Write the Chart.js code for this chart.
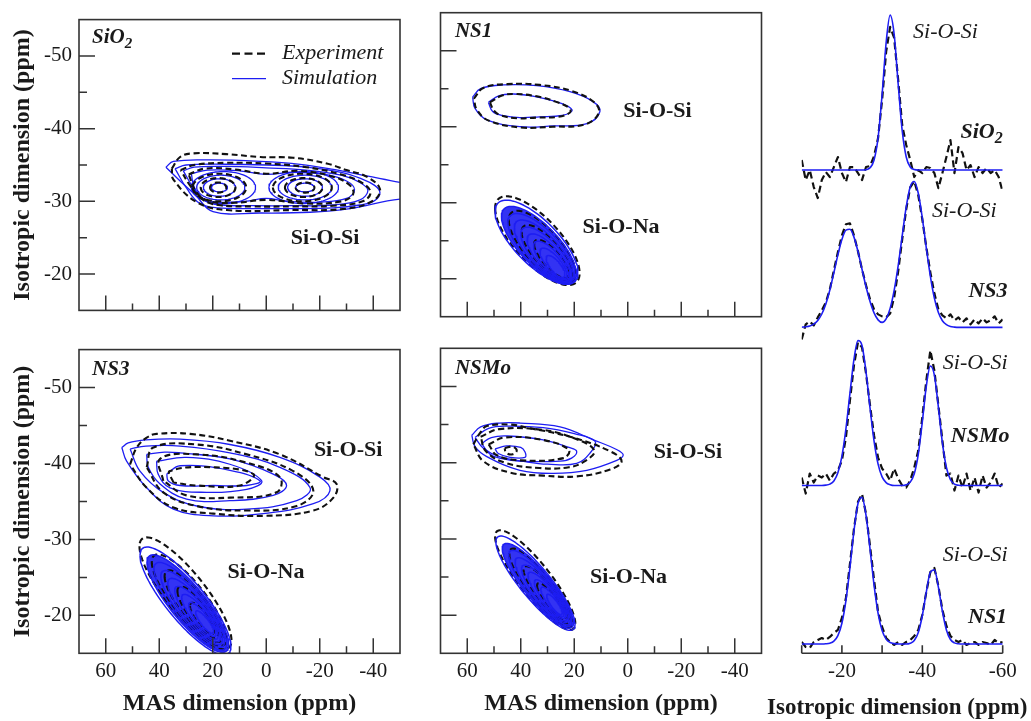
<!DOCTYPE html>
<html><head><meta charset="utf-8">
<script src="https://cdn.jsdelivr.net/npm/chart.js@4.4.1/dist/chart.umd.min.js"></script>
<style>
html,body{margin:0;padding:0;background:#fff;width:1031px;height:721px;overflow:hidden}
canvas{position:absolute}
</style></head><body>
<canvas id="p1" style="left:0px;top:0px;width:402px;height:330px" width="402" height="330"></canvas>
<canvas id="p2" style="left:430px;top:0px;width:340px;height:330px" width="340" height="330"></canvas>
<canvas id="p3" style="left:0px;top:330px;width:402px;height:391px" width="402" height="391"></canvas>
<canvas id="p4" style="left:420px;top:330px;width:350px;height:391px" width="350" height="391"></canvas>
<canvas id="p5" style="left:740px;top:0px;width:291px;height:721px" width="291" height="721"></canvas>
<script>
// ---------- axis ticks ----------
const masMajor = [60, 40, 20, 0, -20, -40];
const masMinor = [50, 30, 10, -10, -30];
const isoMajor = [-50, -40, -30, -20];
const isoMinor = [-45, -35, -25];
const projTicks = [-10, -20, -30, -40, -50, -60];
const projLabels = [-20, -40, -60];

// ---------- 2D contours: polygons [MAS, isotropic] and ellipses [cx, cy, rx, ry, slope] ----------
const sio2SimPolys = [
  [[37.5,-34.7],[34.7,-35.5],[21,-35.7],[2.3,-35.5],[-12.6,-35.1],[-25.1,-34.4],[-37.5,-33.5],[-50,-32.6],[-62,-31.6],[-62,-30.0],[-50,-30.3],[-31.3,-29.0],[-16.4,-28.5],[2.3,-28.4],[19.9,-28.6],[26.6,-30.9],[32.2,-32.8]],
  [[34.1,-34.5],[30,-35.0],[15,-35.1],[0,-35.0],[-15,-34.7],[-28,-34.0],[-35,-33.2],[-40.5,-32.2],[-42.5,-31.2],[-40.5,-30.1],[-35,-29.5],[-25,-29.1],[-10,-29.0],[5,-29.0],[18,-29.1],[24.8,-29.7],[29.6,-31.7]],
  [[31,-34.2],[27,-34.7],[15,-34.8],[0,-34.6],[-15,-34.3],[-28,-33.6],[-35,-32.6],[-38,-31.5],[-35,-30.2],[-25,-29.5],[-10,-29.4],[5,-29.4],[17,-29.5],[23,-30.1],[27.5,-32.0]],
  [[28,-33.8],[22,-34.3],[10,-34.2],[0,-33.7],[-10,-34.0],[-22,-33.7],[-30,-32.8],[-33,-31.6],[-30,-30.4],[-20,-29.9],[-8,-30.0],[0,-30.4],[8,-30.0],[18,-29.9],[24,-30.5],[27,-32.0]]
];
const sio2SimEll = [[16,-31.9,12,2.2,0],[17,-31.9,9,1.7,0],[17.5,-31.9,6,1.2,0],[17.5,-31.9,3,0.6,0],
  [-14,-31.9,13,2.2,0],[-14.5,-31.9,10,1.7,0],[-14.5,-31.9,6.5,1.2,0],[-14.5,-31.9,3.5,0.6,0]];
const sio2ExpPolys = [
  [[35.3,-34.5],[32.2,-36.1],[27.3,-36.6],[15,-36.5],[2.3,-36.1],[-10,-36.0],[-22.6,-35.2],[-30,-34.3],[-37.5,-33.4],[-42.5,-31.7],[-40,-30.1],[-30,-29.0],[-10,-28.8],[14.8,-28.8],[26,-29.9],[34.7,-33]],
  [[32,-34.3],[27,-35.0],[15,-35.3],[0,-35.2],[-15,-34.7],[-28,-33.7],[-36,-32.5],[-39,-31.2],[-36,-30.0],[-25,-29.4],[-10,-29.3],[5,-29.3],[18,-29.5],[24,-30.3],[28.5,-32.2]],
  [[29,-33.7],[23,-34.5],[12,-34.4],[0,-33.8],[-12,-34.2],[-24,-33.5],[-31,-32.3],[-32.5,-31.0],[-28,-30.0],[-15,-29.7],[0,-30.2],[12,-29.8],[21,-30.0],[26,-31.2]]
];
const sio2ExpEll = [[17.5,-31.9,10,1.9,0],[18,-31.9,6.5,1.3,0],[18,-31.9,3,0.7,0],[-13.5,-31.9,11,1.9,0],[-14,-31.9,7,1.3,0],[-14.5,-31.9,3.5,0.7,0]];

const ns1SimPolys = [
  [[58.0,-43.9],[55,-45.0],[46.5,-45.5],[34,-45.4],[21.6,-44.6],[13,-43.3],[10.4,-42.0],[15.3,-40.4],[27.8,-40.1],[40.3,-40.0],[52.7,-40.9],[57.1,-42.4]],
  [[52.1,-43.2],[48,-44.1],[42.8,-44.3],[35,-44.0],[27.8,-43.4],[22.5,-42.7],[20.8,-42.1],[24.5,-41.5],[33,-41.3],[40.3,-41.2],[47,-41.5],[50.5,-42.0]]
];
const ns1SimEll = [[34.1,-24.8,15.5,3.8,-0.26],[33.2,-24.4,14.0,3.45,-0.27],[32.3,-24.0,12.5,3.1,-0.27],[31.4,-23.6,11.0,2.75,-0.28],[30.5,-23.2,9.5,2.4,-0.28],[29.6,-22.8,8.0,2.05,-0.29],[28.7,-22.4,6.5,1.7,-0.29],[27.8,-22.0,5.0,1.35,-0.3],[27.0,-21.6,3.5,1.0,-0.3]];
const ns1ExpPolys = [
  [[57.5,-43.7],[54,-45.1],[45,-45.6],[33,-45.5],[21,-44.7],[12.5,-43.2],[10.8,-41.8],[16,-40.3],[28,-40.0],[40,-39.9],[52,-40.8],[56.5,-42.3]],
  [[51.5,-43.2],[47,-44.1],[42,-44.3],[34,-44.0],[27,-43.3],[22,-42.5],[21.5,-41.9],[26,-41.3],[34,-41.2],[41,-41.1],[47.5,-41.5],[50,-42.1]]
];
const ns1ExpEll = [[33.8,-25.0,15.8,4.0,-0.27],[32,-24.2,12.5,3.2,-0.28],[30.2,-23.4,9.5,2.4,-0.29],[28.5,-22.6,6.5,1.6,-0.3]];

const ns3SimPolys = [
  [[54,-42.1],[51.6,-42.7],[45,-43.1],[32.2,-43.2],[13.6,-42.5],[-5.1,-40.8],[-20.1,-38.2],[-23.8,-36.4],[-17.6,-34.7],[1.1,-33.4],[19.8,-33.1],[34.7,-34.0],[44.7,-36.8],[52.2,-40.3]],
  [[50.9,-41.9],[45,-42.3],[32.2,-42.3],[13.6,-41.4],[-5.1,-39.5],[-16.4,-36.8],[-11.4,-35.1],[7.3,-34.0],[26,-34.4],[38.5,-36.2],[47.2,-39.0]],
  [[44.7,-41.2],[38,-41.5],[32.2,-41.4],[13.6,-40.6],[-2.6,-38.6],[-7.6,-37.1],[-2.6,-35.8],[13.6,-35.1],[29.8,-35.3],[39.7,-37.3],[44.1,-39.5]],
  [[41,-40.3],[29.8,-40.8],[13.6,-39.9],[1.7,-37.7],[7.3,-36.6],[22.3,-36.2],[36,-36.8],[40.4,-38.6]],
  [[37.2,-38.6],[32.2,-39.7],[13.6,-39.1],[2.3,-37.7],[7.3,-37.1],[19.8,-37.1],[32.2,-37.1],[36.6,-37.7]]
];
const ns3SimEll = [[30.2,-21.9,17.0,3.8,-0.353],[29.3,-21.55,15.3,3.42,-0.355],[28.4,-21.2,13.6,3.05,-0.36],[27.5,-20.85,11.9,2.68,-0.36],[26.6,-20.5,10.2,2.3,-0.365],[25.7,-20.15,8.5,1.93,-0.365],[24.8,-19.8,6.8,1.56,-0.37],[23.9,-19.45,5.1,1.19,-0.37],[23.0,-19.1,3.4,0.82,-0.37]];
const ns3ExpPolys = [
  [[50.9,-39.9],[48.4,-42.1],[44.7,-43.4],[41,-43.9],[28.5,-43.9],[13.6,-43.0],[-5.1,-41.2],[-21.3,-38.2],[-26.3,-37.3],[-25.1,-35.5],[-17.6,-33.8],[1.1,-33.1],[19.8,-33.4],[34.7,-34.2],[44.7,-36.8]],
  [[44.7,-39.5],[42.2,-42.1],[26,-42.5],[7.3,-41.2],[-10.1,-39.0],[-17.6,-36.4],[-11.4,-34.4],[7.3,-33.8],[26,-34.4],[38.5,-36.2]],
  [[38.5,-37.7],[39.7,-40.6],[26,-41.2],[7.3,-40.1],[-5.1,-38.2],[-3.9,-36.2],[13.6,-35.5],[29.8,-35.8]],
  [[34.7,-37.5],[36,-39.0],[19.8,-39.5],[4.8,-38.6],[9.8,-37.1],[26,-37.1]]
];
const ns3ExpEll = [[30.2,-22.9,17.2,4.0,-0.36],[28.8,-22.0,14,3.3,-0.36],[27.2,-21.2,10.8,2.6,-0.365],[25.6,-20.4,7.6,1.9,-0.37],[24,-19.6,4.5,1.2,-0.37]];

const nsmoSimPolys = [
  [[58.3,-43.6],[55,-44.7],[48,-45.2],[40.3,-45.2],[25.3,-44.7],[12.9,-43.0],[4,-41.7],[1.7,-41.0],[4.1,-40.3],[15.3,-39.0],[27.8,-38.6],[40.3,-39.0],[52.7,-40.8],[57.1,-42.1]],
  [[57.1,-43.3],[52,-44.5],[45,-44.8],[31.6,-44.6],[20,-43.8],[12.2,-42.8],[14,-41.3],[19.1,-39.9],[30,-39.8],[37.8,-40.1],[48,-40.8],[54,-41.9]],
  [[54.6,-42.5],[51,-43.3],[45,-43.5],[31.6,-43.0],[22,-42.0],[19.1,-41.5],[21,-40.6],[25.3,-40.2],[40.3,-40.2],[48,-40.6],[51.5,-41.1]],
  [[49.6,-41.8],[45.3,-42.2],[40,-42.0],[38.4,-41.4],[38.4,-40.7],[44,-40.7],[48.4,-41.2]]
];
const nsmoSimEll = [[34.5,-24.2,14.8,3.0,-0.365],[33.6,-23.85,13.3,2.72,-0.365],[32.7,-23.5,11.8,2.44,-0.37],[31.8,-23.15,10.3,2.16,-0.37],[30.9,-22.8,8.8,1.88,-0.37],[30.0,-22.45,7.3,1.6,-0.375],[29.1,-22.1,5.8,1.32,-0.375],[28.2,-21.75,4.3,1.04,-0.38],[27.4,-21.4,2.9,0.76,-0.38]];
const nsmoExpPolys = [
  [[57.7,-42.4],[55,-44.0],[52.7,-44.8],[44,-45.0],[37.8,-44.6],[21.6,-43.4],[6.6,-41.5],[2.3,-40.2],[6.6,-39.1],[19.1,-38.2],[31.6,-38.3],[44,-38.7],[54,-40.2]],
  [[55,-43.4],[48,-44.4],[32,-44.3],[20,-43.2],[12.5,-41.6],[16,-40.2],[22,-39.4],[33,-39.3],[46,-40.0],[53,-41.5]],
  [[52,-42.4],[46,-43.3],[32,-43.0],[22,-41.7],[24,-40.6],[40,-40.3],[49,-41.0]],
  [[46,-41.9],[43,-42.1],[41.5,-41.6],[43,-41.1],[45.5,-41.3]]
];
const nsmoExpEll = [[34.6,-24.6,15.0,3.2,-0.38],[32.5,-23.6,11.8,2.5,-0.38],[30.4,-22.7,8.6,1.8,-0.38],[28.4,-21.8,5.5,1.2,-0.38]];

// ---------- isotropic projections ----------
const projPpm = [-10,-11,-12,-13,-14,-15,-16,-17,-18,-19,-20,-21,-22,-23,-24,-25,-26,-27,-28,-29,-30,-31,-32,-33,-34,-35,-36,-37,-38,-39,-40,-41,-42,-43,-44,-45,-46,-47,-48,-49,-50,-51,-52,-53,-54,-55,-56,-57,-58,-59,-60];
const sio2Sim = [0,0,0,0,0,0,0,0,0,0,0,0,0,0,0,0,0.4,2.2,10,32.3,75.4,127.2,154.8,135.7,86,39.3,13,3.1,0.5,0,0,0,0,0,0,0,0,0,0,0,0,0,0,0,0,0,0,0,0,0,0];
const sio2Exp = [10,-10,0,-17,-28,-10,-2,-7,3,13,-3,-12,3,3,-3,-10,3,4,14,32,70,118,143,132,90,45,25,10,-7,0,-3,3,2,-3,-18,-3,13,30,-3,23,17,0,5,-7,3,-3,2,-3,0,-7,-22];
const ns3Sim = [0.2,0.6,1.4,3.3,7,13.4,23.4,37.4,54.5,72.4,87.8,97.1,98,90.2,75.8,58.1,40.6,25.9,14.5,7.5,5,8.5,19,37,61.8,91.5,120.4,140.6,145.7,134,109.5,79.3,51.1,29.2,14.8,6.7,2.7,0.9,0.3,0,0,0,0,0,0,0,0,0,0,0,0];
const ns3Exp = [-12,3,6,2,10,17,25,38,57,75,92,103,104,92,76,58,42,28,18,13,11,10,14,30,56,88,118,140,146,132,108,80,55,34,18,12,9,13,7,10,5,9,3,8,4,9,5,7,11,4,8];
const nsmoSim = [0,0,0,0,0,0,0.4,1.4,4.6,12.7,29.2,56.6,92.1,126,144.8,139.9,113.6,77.4,44.4,21.4,8.7,2.9,0.8,0,0,0,0.8,3.4,11.8,31.2,63.5,99.3,119.4,110.3,78.4,42.7,18,5.8,1.4,0.3,0,0,0,0,0,0,0,0,0,0,0];
const nsmoExp = [8,-8,12,3,10,8,12,5,12,15,25,48,85,120,143,138,112,80,50,28,17,12,5,17,7,0,-2,5,18,35,68,105,135,115,80,45,10,12,-5,10,-2,12,-5,8,-7,10,-2,3,12,-2,2];
const ns1Sim = [0,0,0,0,0,0,0.2,0.8,2.8,8.3,20.7,43.4,76.3,112.9,140.3,146.5,128.6,94.8,58.8,30.6,13.4,4.9,1.5,0.4,0,0,0,0.8,3.4,11.4,28.2,52.1,71.8,74,56.9,32.7,14,4.5,1.1,0.2,0,0,0,0,0,0,0,0,0,0,0];
const ns1Exp = [2,-3,-4,2,4,6,4,7,11,14,26,46,80,115,142,150,130,98,64,32,17,6,2,-1,2,-1,2,4,8,14,29,52,72,76,58,34,18,8,4,2,4,-1,1,2,-1,2,1,-1,4,1,2];
const stackNames = ['SiO2', 'NS3', 'NSMo', 'NS1'];
const stackBaselines = [482.8, 325.6, 167.6, 9.3];

// ---------- styling ----------
const SERIF = '"Liberation Serif","Times New Roman","DejaVu Serif",serif';
const BLUE = '#1d1df2';
const BLACK = '#111111';
const AXC = '#333333';
const TXT = '#1a1a1a';

function ring(poly) { return poly.concat([poly[0]]).map(p => ({x: p[0], y: p[1]})); }
function ellipse(e) {
  const [cx, cy, rx, ry, s] = e; const pts = [];
  for (let i = 0; i <= 90; i++) { const t = i / 90 * 2 * Math.PI; const dx = rx * Math.cos(t); pts.push({x: cx + dx, y: cy + s * dx + ry * Math.sin(t)}); }
  return pts;
}
function lineDs(data, color, w, dash, tension, order) {
  return {data, showLine: true, borderColor: color, backgroundColor: color, borderWidth: w, borderDash: dash || [], tension,
    pointRadius: 0, pointHoverRadius: 0, fill: false, borderCapStyle: 'butt', borderJoinStyle: 'round', order: order || 0};
}
// blobFill: index of the simulated ellipse whose interior is dense (solid) in the picture, or -1
function contourSets(sp, se, ep, ee, blobFill) {
  const ds = [];
  const blob = blobFill >= 0;
  if (blob) {
    const f = lineDs(ellipse(se[blobFill]), 'rgba(0,0,0,0)', 0, null, 0, 4);
    f.fill = 'shape'; f.backgroundColor = 'rgba(29,29,242,0.9)';
    ds.push(f);
  }
  sp.forEach(p => ds.push(lineDs(ring(p), BLUE, 1.3, null, 0.4, 2)));
  se.forEach(e => ds.push(lineDs(ellipse(e), BLUE, blob ? 1.5 : 1.3, null, 0, blob ? 1 : 2)));
  ep.forEach(p => ds.push(lineDs(ring(p), BLACK, 2.1, [6, 3.5], 0.4, 1)));
  ee.forEach(e => ds.push(lineDs(ellipse(e), BLACK, 2.1, [6, 3.5], 0, blob ? 3 : 1)));
  return ds;
}

function drawLabel(ctx, l, px, py) {
  ctx.font = l.font;
  const w1 = ctx.measureText(l.text).width;
  let w2 = 0;
  if (l.sub) { ctx.font = l.subFont; w2 = ctx.measureText(l.sub).width; }
  const total = w1 + w2;
  const x0 = l.align === 'left' ? px : (l.align === 'right' ? px - total : px - total / 2);
  ctx.textAlign = 'left'; ctx.textBaseline = 'middle'; ctx.fillStyle = TXT;
  ctx.font = l.font; ctx.fillText(l.text, x0, py);
  if (l.sub) { ctx.font = l.subFont; ctx.fillText(l.sub, x0 + w1, py + 6); }
}

const frameTicks = {
  id: 'frameTicks',
  afterDatasetsDraw(chart) {
    const {ctx, chartArea: a, scales: {x, y}} = chart;
    ctx.save();
    ctx.strokeStyle = AXC; ctx.lineWidth = 1.6; ctx.setLineDash([]);
    ctx.strokeRect(a.left, a.top, a.right - a.left, a.bottom - a.top);
    ctx.lineWidth = 1.5; ctx.beginPath();
    masMajor.forEach(v => { const p = x.getPixelForValue(v); ctx.moveTo(p, a.bottom); ctx.lineTo(p, a.bottom - 15); });
    masMinor.forEach(v => { const p = x.getPixelForValue(v); ctx.moveTo(p, a.bottom); ctx.lineTo(p, a.bottom - 7); });
    isoMajor.forEach(v => { const p = y.getPixelForValue(v); ctx.moveTo(a.left, p); ctx.lineTo(a.left + 16, p); });
    isoMinor.forEach(v => { const p = y.getPixelForValue(v); ctx.moveTo(a.left, p); ctx.lineTo(a.left + 8, p); });
    ctx.stroke(); ctx.restore();
  }
};
function annot(labels, extra) {
  return {
    id: 'annot',
    afterDatasetsDraw(chart) {
      const {ctx, scales: {x, y}} = chart;
      ctx.save();
      labels.forEach(l => drawLabel(ctx, l, x.getPixelForValue(l.x), y.getPixelForValue(l.y)));
      if (extra) extra(chart);
      ctx.restore();
    }
  };
}

const FB = 'bold 22px ' + SERIF;
const FTAG = 'italic bold 21px ' + SERIF;
const FSUB = 'italic bold 15px ' + SERIF;
const tickFont = {family: SERIF, size: 21};
const titleFont = {family: SERIF, size: 24, weight: 'bold', lineHeight: 1.2};

function panel(id, cfg) {
  const x = {type: 'linear', min: -50, max: 70, reverse: true, position: 'bottom', display: cfg.showX,
    afterBuildTicks: s => { s.ticks = masMajor.map(v => ({value: v})); },
    grid: {display: false, drawTicks: false}, border: {display: false},
    ticks: {font: tickFont, color: TXT, padding: 6, maxRotation: 0, autoSkip: false, callback: v => String(v)},
    title: {display: true, text: 'MAS dimension (ppm)', font: titleFont, color: TXT, padding: {top: 0, bottom: 3}}};
  if (cfg.showX) x.afterFit = s => { s.height = 67.7; };
  const y = {type: 'linear', min: -55, max: -15, reverse: true, position: 'left', display: cfg.showY,
    afterBuildTicks: s => { s.ticks = isoMajor.map(v => ({value: v})); },
    grid: {display: false, drawTicks: false}, border: {display: false},
    ticks: {font: tickFont, color: TXT, padding: 7, autoSkip: false, callback: v => String(v)},
    title: {display: true, text: 'Isotropic dimension (ppm)', font: titleFont, color: TXT, padding: {top: 8, bottom: 0}}};
  if (cfg.showY) y.afterFit = s => { s.width = 79; };
  new Chart(document.getElementById(id), {
    type: 'scatter',
    data: {datasets: cfg.datasets},
    options: {
      responsive: false, animation: false, devicePixelRatio: 1, events: [],
      layout: {padding: cfg.pad},
      scales: {x, y},
      plugins: {legend: {display: false}, tooltip: {enabled: false}}
    },
    plugins: [frameTicks, annot(cfg.labels, cfg.extra)]
  });
}

function legendDraw(chart) {
  const {ctx, chartArea: a} = chart;
  ctx.save();
  ctx.lineWidth = 2.3; ctx.strokeStyle = BLACK; ctx.setLineDash([8, 4.5]);
  ctx.beginPath(); ctx.moveTo(a.left + 153, a.top + 34); ctx.lineTo(a.left + 187, a.top + 34); ctx.stroke();
  ctx.setLineDash([]); ctx.lineWidth = 1.4; ctx.strokeStyle = BLUE;
  ctx.beginPath(); ctx.moveTo(a.left + 153, a.top + 59); ctx.lineTo(a.left + 187, a.top + 59); ctx.stroke();
  ctx.fillStyle = TXT; ctx.font = 'italic 22px ' + SERIF; ctx.textAlign = 'left'; ctx.textBaseline = 'middle';
  ctx.fillText('Experiment', a.left + 203, a.top + 34);
  ctx.fillText('Simulation', a.left + 203, a.top + 59);
  ctx.restore();
}

panel('p1', {showX: false, showY: true, pad: {left: 0, right: 2, top: 12.7, bottom: 13.3},
  datasets: contourSets(sio2SimPolys, sio2SimEll, sio2ExpPolys, sio2ExpEll, -1),
  labels: [{text: 'SiO', sub: '2', subFont: FSUB, font: FTAG, x: 65.1, y: -52.5, align: 'left'},
           {text: 'Si-O-Si', font: FB, x: -22, y: -24.9, align: 'center'}],
  extra: legendDraw});
panel('p2', {showX: false, showY: false, pad: {left: 10.5, right: 8.5, top: 12.7, bottom: 13.3},
  datasets: contourSets(ns1SimPolys, ns1SimEll, ns1ExpPolys, ns1ExpEll, 1),
  labels: [{text: 'NS1', font: FTAG, x: 64.6, y: -52.5, align: 'left'},
           {text: 'Si-O-Si', font: FB, x: -11.1, y: -42.0, align: 'center'},
           {text: 'Si-O-Na', font: FB, x: 2.5, y: -26.8, align: 'center'}]});
panel('p3', {showX: true, showY: true, pad: {left: 0, right: 2, top: 18.3, bottom: 0},
  datasets: contourSets(ns3SimPolys, ns3SimEll, ns3ExpPolys, ns3ExpEll, 1),
  labels: [{text: 'NS3', font: FTAG, x: 65.1, y: -52.4, align: 'left'},
           {text: 'Si-O-Si', font: FB, x: -30.6, y: -41.7, align: 'center'},
           {text: 'Si-O-Na', font: FB, x: 0.1, y: -25.7, align: 'center'}]});
panel('p4', {showX: true, showY: false, pad: {left: 20.5, right: 8.5, top: 18.3, bottom: 0},
  datasets: contourSets(nsmoSimPolys, nsmoSimEll, nsmoExpPolys, nsmoExpEll, 1),
  labels: [{text: 'NSMo', font: FTAG, x: 64.6, y: -52.4, align: 'left'},
           {text: 'Si-O-Si', font: FB, x: -22.5, y: -41.4, align: 'center'},
           {text: 'Si-O-Na', font: FB, x: -0.3, y: -25.0, align: 'center'}]});

// ---------- projections panel ----------
const simSeries = [sio2Sim, ns3Sim, nsmoSim, ns1Sim];
const expSeries = [sio2Exp, ns3Exp, nsmoExp, ns1Exp];
const projDs = [];
simSeries.forEach((arr, i) => {
  const d = lineDs(projPpm.map((v, k) => ({x: v, y: stackBaselines[i] + arr[k]})), BLUE, 1.6, null, 0, 0);
  d.cubicInterpolationMode = 'monotone';
  projDs.push(d);
});
expSeries.forEach((arr, i) => {
  projDs.push(lineDs(projPpm.map((v, k) => ({x: v, y: stackBaselines[i] + arr[k]})), BLACK, 2.2, [7, 4], 0, 1));
});
const FI = 'italic 22px ' + SERIF;
const FBI = 'italic bold 22px ' + SERIF;
const projAnnot = [
  {text: 'Si-O-Si', font: FI, x: -37.7, y: 620.3, align: 'left'},
  {text: 'SiO', sub: '2', subFont: 'italic bold 16px ' + SERIF, font: FBI, x: -60, y: 520.3, align: 'right'},
  {text: 'Si-O-Si', font: FI, x: -42.4, y: 441.3, align: 'left'},
  {text: 'NS3', font: FBI, x: -61.2, y: 361.3, align: 'right'},
  {text: 'Si-O-Si', font: FI, x: -45.1, y: 290.3, align: 'left'},
  {text: 'NSMo', font: FBI, x: -61.7, y: 216.3, align: 'right'},
  {text: 'Si-O-Si', font: FI, x: -45.1, y: 98.3, align: 'left'},
  {text: 'NS1', font: FBI, x: -61.1, y: 36.3, align: 'right'}
];
function projAxis(chart) {
  const {ctx, chartArea: a, scales: {x}} = chart;
  ctx.save();
  ctx.strokeStyle = AXC; ctx.lineWidth = 1.6; ctx.setLineDash([]);
  ctx.beginPath(); ctx.moveTo(a.left, a.bottom); ctx.lineTo(a.right, a.bottom);
  projTicks.forEach(v => { const p = x.getPixelForValue(v); ctx.moveTo(p, a.bottom); ctx.lineTo(p, a.bottom - 8); });
  ctx.stroke();
  ctx.fillStyle = TXT; ctx.font = 'bold 23px ' + SERIF; ctx.textAlign = 'center'; ctx.textBaseline = 'middle';
  ctx.fillText('Isotropic dimension (ppm)', (a.left + a.right) / 2 - 5, 708);
  ctx.restore();
}
new Chart(document.getElementById('p5'), {
  type: 'scatter',
  data: {datasets: projDs},
  options: {
    responsive: false, animation: false, devicePixelRatio: 1, events: [],
    layout: {padding: {left: 61.7, right: 28.3, top: 12.7, bottom: 0}},
    scales: {
      x: {type: 'linear', min: -60, max: -10, reverse: true, position: 'bottom',
        afterBuildTicks: s => { s.ticks = projLabels.map(v => ({value: v})); },
        afterFit: s => { s.height = 67.7; },
        grid: {display: false, drawTicks: false}, border: {display: false},
        ticks: {font: tickFont, color: TXT, padding: 6, maxRotation: 0, autoSkip: false, callback: v => String(v)}},
      y: {type: 'linear', min: 0, max: 640, display: false}
    },
    plugins: {legend: {display: false}, tooltip: {enabled: false}}
  },
  plugins: [annot(projAnnot, projAxis)]
});
</script>
</body></html>
